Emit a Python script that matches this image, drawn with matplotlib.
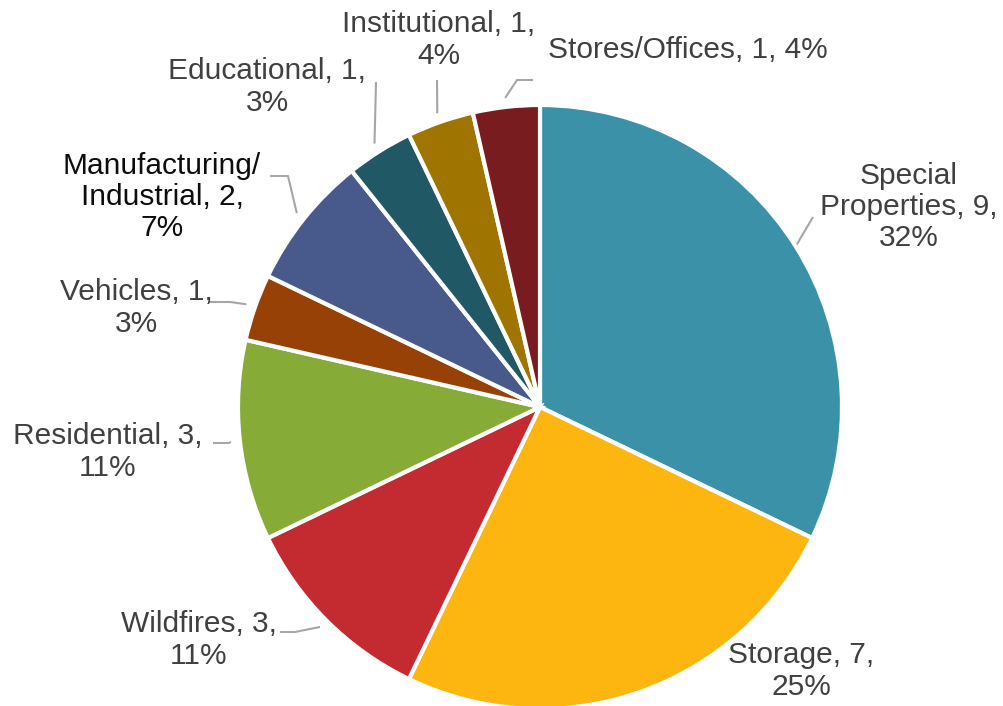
import numpy as np
import matplotlib
matplotlib.use("Agg")
import matplotlib.pyplot as plt

# ---- data ----
names = ["Special\nProperties", "Storage", "Wildfires", "Residential", "Vehicles",
         "Manufacturing/\nIndustrial", "Educational", "Institutional", "Stores/Offices"]
values = [9, 7, 3, 3, 1, 2, 1, 1, 1]
pct_labels = ["32%", "25%", "11%", "11%", "3%", "7%", "3%", "4%", "4%"]
colors = ["#3A91A8", "#FDB50F", "#C42B30", "#86AB36", "#974106",
          "#485A8C", "#215866", "#A07400", "#781C1F"]

W, H = 1004, 706
fig = plt.figure(figsize=(W / 100, H / 100), dpi=100)
ax = fig.add_axes([0, 0, 1, 1])

cx, cy_top, R = 540, 407, 302
center = (cx, H - cy_top)

wedges, _ = ax.pie(values, colors=colors, startangle=90, counterclock=False,
                   center=center, radius=R,
                   wedgeprops=dict(edgecolor="white", linewidth=3))
ax.set_xlim(0, W)
ax.set_ylim(0, H)
ax.set_aspect("equal")
ax.axis("off")

def P(x, y):
    return (x, H - y)

# label layout (pixel coords, top-based y)
seps = ["\n", "\n", "\n", "\n", "\n", "\n", "\n", "\n", " "]
label_pos = [(909, 207), (801, 671), (199, 640), (108, 452), (136, 308),
             (162, 197), (267, 87), (439, 40), (688, 50)]
label_colors = ["#404040"] * 9
label_colors[5] = "#0D0D0D"

for i, (n, v, p) in enumerate(zip(names, values, pct_labels)):
    txt = f"{n}, {v},{seps[i]}{p}"
    ax.text(*P(*label_pos[i]), txt, ha="center", va="center", fontsize=21.5,
            family=["Liberation Sans", "DejaVu Sans"], color=label_colors[i],
            linespacing=1.15)

# leader lines: start/knee points at the label, end at wedge mid-angle
leaders = {
    0: ([(813, 217)], 1.0),
    2: ([(280, 632), (295, 632)], 1.03),
    3: ([(213, 443), (229, 443)], 1.03),
    4: ([(208, 302), (230, 302)], 1.03),
    5: ([(270, 176), (288, 176)], 1.03),
    6: ([(376, 82)], 1.03),
    7: ([(437, 80)], 1.03),
    8: ([(533, 80), (517, 80)], 1.03),
}
for i, (pts, rf) in leaders.items():
    w = wedges[i]
    mid = np.deg2rad((w.theta1 + w.theta2) / 2)
    ex = center[0] + R * rf * np.cos(mid)
    ey = center[1] + R * rf * np.sin(mid)
    xs = [p[0] for p in pts] + [ex]
    ys = [H - p[1] for p in pts] + [ey]
    ax.plot(xs, ys, color="#A6A6A6", lw=1.5, solid_capstyle="butt", zorder=0.5)

fig.savefig("out.png", dpi=100)
